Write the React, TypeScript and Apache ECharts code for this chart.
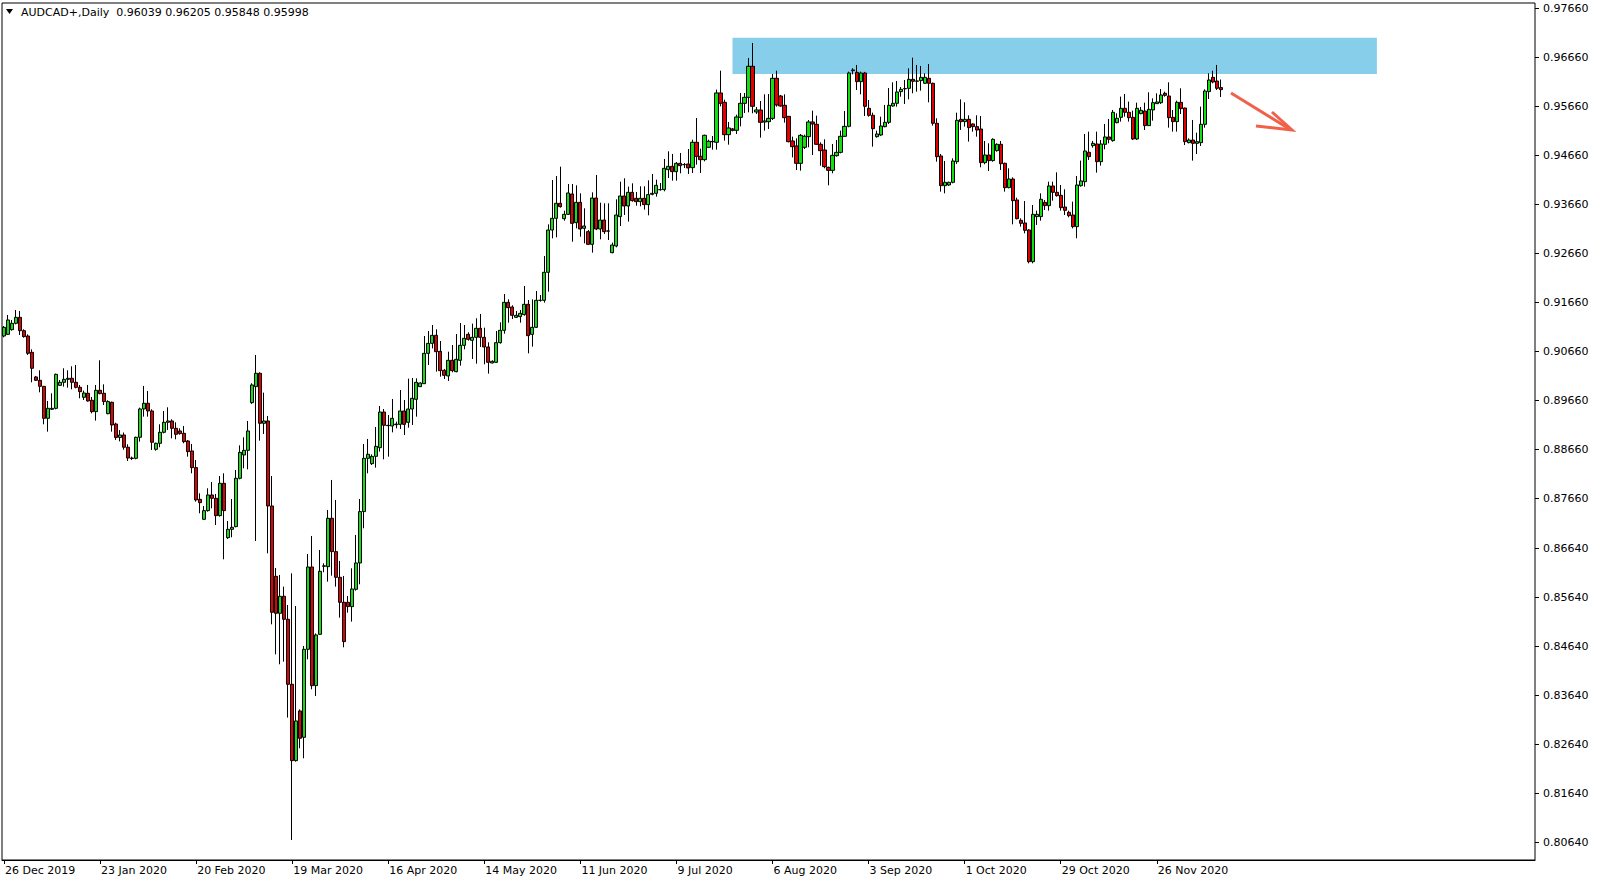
import React, { useEffect, useRef } from "react";
import * as echarts from "echarts";

const OPEN = [0.90970,0.91004,0.91100,0.91229,0.91351,0.91079,0.90970,0.90637,0.90134,0.90066,0.89943,0.89290,0.89474,0.89494,0.89963,0.90025,0.90086,0.90107,0.90025,0.89923,0.89719,0.89801,0.89658,0.89426,0.89862,0.89801,0.89385,0.89617,0.89174,0.88900,0.88950,0.88700,0.88470,0.88474,0.88903,0.89481,0.89597,0.89440,0.88658,0.88780,0.89005,0.89209,0.89236,0.89086,0.89032,0.88984,0.88828,0.88624,0.88284,0.87637,0.87229,0.87406,0.87726,0.87658,0.87304,0.87964,0.86855,0.87025,0.87080,0.88066,0.88542,0.88637,0.89610,0.89937,0.90209,0.89189,0.89236,0.87501,0.86066,0.85311,0.85658,0.85189,0.83862,0.82304,0.83318,0.82780,0.84576,0.86256,0.83835,0.84882,0.86270,0.86263,0.87250,0.86569,0.86045,0.85535,0.85535,0.85447,0.85801,0.86338,0.87386,0.88474,0.88365,0.88514,0.88691,0.89419,0.89147,0.89133,0.89160,0.89167,0.89440,0.89208,0.89480,0.89678,0.89936,0.89997,0.90616,0.90820,0.90984,0.90657,0.90270,0.90154,0.90474,0.90242,0.90474,0.90780,0.91004,0.90882,0.90943,0.91127,0.90943,0.90746,0.90419,0.90433,0.90834,0.91086,0.91657,0.91562,0.91351,0.91365,0.91406,0.91617,0.91004,0.91147,0.91695,0.91698,0.92270,0.93133,0.93372,0.93678,0.93365,0.93453,0.93868,0.93283,0.93698,0.93168,0.93100,0.92841,0.93786,0.93154,0.93337,0.93110,0.92671,0.92807,0.93406,0.93827,0.93623,0.93902,0.93780,0.93712,0.93780,0.93651,0.93862,0.93882,0.93955,0.93957,0.94365,0.94433,0.94324,0.94494,0.94465,0.94481,0.94406,0.94923,0.94637,0.94569,0.94821,0.94935,0.94923,0.95930,0.95739,0.95079,0.95195,0.95168,0.95433,0.95719,0.95841,0.96474,0.95542,0.95582,0.95338,0.95344,0.95412,0.96229,0.95868,0.95678,0.95453,0.94950,0.94848,0.94494,0.94821,0.95038,0.95338,0.95290,0.94882,0.94766,0.94412,0.94351,0.94650,0.94718,0.95045,0.95249,0.96385,0.96351,0.96161,0.96338,0.95617,0.95474,0.95038,0.95072,0.95242,0.95331,0.95664,0.95719,0.95957,0.96015,0.96025,0.96208,0.96170,0.96181,0.96127,0.96229,0.96127,0.95311,0.94644,0.94038,0.94052,0.94106,0.94528,0.95392,0.95345,0.95392,0.95297,0.95243,0.95195,0.94508,0.94664,0.94549,0.94753,0.94882,0.94494,0.93998,0.94174,0.93746,0.93331,0.93277,0.93134,0.92487,0.93406,0.93406,0.93698,0.93630,0.94032,0.93902,0.93841,0.93603,0.93494,0.93440,0.93202,0.94038,0.94120,0.94719,0.94855,0.94889,0.94528,0.94882,0.95032,0.94957,0.95324,0.95433,0.95617,0.95535,0.95433,0.94991,0.95508,0.95562,0.95263,0.95583,0.95712,0.95732,0.95923,0.95868,0.95433,0.95345,0.95739,0.95623,0.94916,0.94970,0.94902,0.94916,0.95290,0.95957,0.96249,0.96174,0.96039];

const CLOSE = [0.91147,0.91297,0.91229,0.91351,0.91079,0.90957,0.90617,0.90311,0.90066,0.89943,0.89290,0.89494,0.89494,0.90188,0.90025,0.90086,0.90107,0.90025,0.89923,0.89834,0.89807,0.89644,0.89426,0.89862,0.89794,0.89631,0.89631,0.89154,0.88900,0.88950,0.88700,0.88480,0.88480,0.88903,0.89481,0.89597,0.89440,0.88801,0.88780,0.89005,0.89209,0.89236,0.89086,0.88964,0.88978,0.88814,0.88610,0.88284,0.87624,0.87569,0.87406,0.87726,0.87658,0.87304,0.87964,0.87406,0.87025,0.87066,0.88066,0.88596,0.88637,0.89032,0.89971,0.90209,0.89189,0.89236,0.87501,0.85331,0.85311,0.85658,0.85189,0.83862,0.82304,0.83114,0.82760,0.84576,0.86256,0.83835,0.84869,0.86168,0.86280,0.87250,0.86569,0.86045,0.85535,0.84733,0.85447,0.85807,0.86338,0.87386,0.88474,0.88556,0.88514,0.88718,0.89419,0.89147,0.89140,0.89290,0.89172,0.89440,0.89167,0.89480,0.89698,0.90025,0.90011,0.90616,0.90820,0.90984,0.90650,0.90263,0.90168,0.90474,0.90263,0.90494,0.90780,0.90923,0.90902,0.90943,0.91127,0.90943,0.90746,0.90433,0.90453,0.90834,0.91086,0.91657,0.91548,0.91392,0.91392,0.91433,0.91617,0.90977,0.91147,0.91698,0.91700,0.92270,0.93133,0.93372,0.93678,0.93610,0.93453,0.93889,0.93269,0.93698,0.93154,0.93215,0.92841,0.93786,0.93154,0.93337,0.93100,0.93115,0.92827,0.93440,0.93827,0.93623,0.93902,0.93732,0.93712,0.93780,0.93651,0.93855,0.93882,0.94045,0.93960,0.94392,0.94433,0.94324,0.94494,0.94447,0.94470,0.94399,0.94923,0.94637,0.94569,0.95066,0.94943,0.94940,0.95930,0.95719,0.95079,0.95215,0.95168,0.95440,0.95719,0.95841,0.96474,0.95657,0.95583,0.95331,0.95358,0.95412,0.96229,0.95685,0.95664,0.95426,0.94936,0.94834,0.94494,0.95065,0.95045,0.95338,0.95297,0.94882,0.94752,0.94426,0.94351,0.94657,0.94718,0.95045,0.95249,0.96338,0.96400,0.96161,0.96338,0.95657,0.95474,0.95201,0.95093,0.95256,0.95331,0.95678,0.95719,0.95950,0.96004,0.96020,0.96208,0.96168,0.96175,0.96249,0.96249,0.96127,0.95311,0.94630,0.94038,0.94106,0.94106,0.94542,0.95372,0.95345,0.95392,0.95222,0.95243,0.95174,0.94508,0.94664,0.94549,0.94984,0.94882,0.94487,0.93998,0.94174,0.93732,0.93365,0.93270,0.93127,0.92487,0.93453,0.93453,0.93760,0.93630,0.94032,0.93902,0.93834,0.93589,0.93535,0.93426,0.93202,0.94052,0.94134,0.94746,0.94630,0.94902,0.94528,0.94889,0.95032,0.94984,0.95535,0.95413,0.95617,0.95535,0.95426,0.94991,0.95617,0.95576,0.95263,0.95596,0.95732,0.95746,0.95889,0.95882,0.95426,0.95345,0.95739,0.95610,0.94936,0.94970,0.94902,0.94936,0.95290,0.95970,0.96195,0.96154,0.96025,0.95998];

const LOW = [0.90943,0.90991,0.91079,0.91208,0.90991,0.90936,0.90583,0.90025,0.90052,0.89821,0.89168,0.89018,0.89460,0.89474,0.89950,0.89936,0.89916,0.89882,0.89902,0.89699,0.89665,0.89631,0.89392,0.89243,0.89780,0.89562,0.89372,0.89018,0.88850,0.88820,0.88650,0.88420,0.88440,0.88454,0.88814,0.89324,0.89324,0.88644,0.88630,0.88699,0.88984,0.89052,0.88882,0.88862,0.88957,0.88780,0.88508,0.88168,0.87590,0.87352,0.87216,0.87386,0.87454,0.87113,0.87284,0.86413,0.86828,0.86862,0.87066,0.88045,0.88270,0.88250,0.89583,0.86787,0.88835,0.88971,0.86535,0.85086,0.84474,0.84270,0.84324,0.83182,0.80685,0.82284,0.82556,0.82352,0.84372,0.83760,0.83624,0.84869,0.86148,0.85957,0.86079,0.85855,0.85222,0.84617,0.85324,0.85141,0.85773,0.85903,0.87046,0.88168,0.88337,0.88283,0.88610,0.88453,0.88508,0.89004,0.89086,0.89072,0.88950,0.89099,0.89154,0.89324,0.89930,0.89990,0.90378,0.90718,0.90242,0.90140,0.90093,0.90052,0.90229,0.90229,0.90365,0.90698,0.90875,0.90501,0.90406,0.90746,0.90392,0.90202,0.90412,0.90419,0.90814,0.91018,0.91242,0.91317,0.91338,0.91242,0.91385,0.90616,0.90753,0.91133,0.91671,0.91651,0.91875,0.92963,0.92984,0.93590,0.93324,0.93440,0.92895,0.93168,0.92997,0.92861,0.92827,0.92671,0.93130,0.92943,0.93052,0.92929,0.92657,0.92780,0.93215,0.93440,0.93304,0.93712,0.93630,0.93617,0.93549,0.93433,0.93841,0.93814,0.93936,0.93923,0.94195,0.94140,0.94140,0.94290,0.94399,0.94277,0.94297,0.94467,0.94297,0.94535,0.94807,0.94773,0.94773,0.95657,0.94957,0.94875,0.95147,0.95093,0.95249,0.95521,0.95535,0.95515,0.95501,0.95018,0.95161,0.95195,0.95378,0.95650,0.95650,0.95324,0.94922,0.94616,0.94358,0.94344,0.94787,0.94821,0.94664,0.94868,0.94446,0.94392,0.94045,0.94290,0.94630,0.94698,0.95038,0.95229,0.96310,0.95991,0.95902,0.95460,0.95446,0.94834,0.95018,0.95052,0.95229,0.95297,0.95650,0.95650,0.95854,0.95705,0.95800,0.95923,0.95957,0.95977,0.96113,0.95739,0.95263,0.94528,0.93916,0.93882,0.94032,0.94086,0.94481,0.95175,0.95243,0.94937,0.95140,0.95038,0.94413,0.94474,0.94338,0.94528,0.94732,0.94358,0.93916,0.93984,0.93249,0.93351,0.93202,0.93066,0.92453,0.92453,0.93236,0.93324,0.93542,0.93528,0.93732,0.93814,0.93528,0.93440,0.93392,0.93168,0.92964,0.94018,0.94018,0.94562,0.94814,0.94304,0.94447,0.94780,0.94902,0.94936,0.95310,0.95345,0.95447,0.95345,0.94970,0.94970,0.95494,0.95174,0.95256,0.95365,0.95705,0.95705,0.95855,0.95222,0.95141,0.95141,0.95501,0.94868,0.94902,0.94549,0.94685,0.94848,0.95222,0.95807,0.96127,0.95991,0.95848];

const HIGH = [0.91174,0.91399,0.91297,0.91501,0.91481,0.91106,0.91004,0.90698,0.90154,0.90270,0.89950,0.89644,0.89800,0.90202,0.90072,0.90311,0.90270,0.90352,0.90379,0.89970,0.89855,0.89970,0.89726,0.89970,0.90474,0.89984,0.89658,0.89631,0.89200,0.89050,0.89000,0.88760,0.88508,0.88916,0.89508,0.89950,0.89848,0.89474,0.88794,0.89168,0.89440,0.89515,0.89270,0.89209,0.89086,0.89134,0.88848,0.88767,0.88440,0.87760,0.87501,0.87862,0.87991,0.87746,0.88113,0.88168,0.87195,0.87644,0.88236,0.88739,0.88903,0.89236,0.90005,0.90583,0.90230,0.89814,0.89338,0.88113,0.86236,0.86093,0.85855,0.85481,0.86127,0.85460,0.83350,0.84644,0.86522,0.86889,0.84900,0.86603,0.86331,0.87420,0.88032,0.87624,0.86379,0.86073,0.85665,0.86229,0.86910,0.87644,0.88767,0.88869,0.88555,0.89113,0.89542,0.89480,0.89358,0.89684,0.89222,0.89868,0.89664,0.90100,0.90113,0.90106,0.90025,0.90970,0.91072,0.91195,0.91106,0.90868,0.90297,0.90650,0.90786,0.91011,0.91235,0.91195,0.91045,0.91222,0.91331,0.91419,0.91140,0.90841,0.90474,0.91072,0.91249,0.91827,0.91718,0.91596,0.91480,0.91501,0.91991,0.91705,0.91718,0.91889,0.91807,0.92603,0.93249,0.94154,0.94235,0.94426,0.93528,0.94072,0.94072,0.94045,0.93882,0.93576,0.93133,0.93902,0.94256,0.93691,0.93678,0.93678,0.92875,0.93759,0.94120,0.94188,0.94018,0.94086,0.93909,0.94025,0.94025,0.94147,0.94277,0.94161,0.94093,0.94583,0.94739,0.94685,0.94521,0.94705,0.94501,0.94787,0.94977,0.95419,0.94794,0.95080,0.94977,0.95052,0.95998,0.96385,0.95794,0.95338,0.95215,0.95487,0.95930,0.95930,0.96644,0.96950,0.95644,0.95766,0.95902,0.95909,0.96317,0.96385,0.95889,0.95902,0.95460,0.95038,0.95004,0.95093,0.95079,0.95378,0.95569,0.95467,0.94923,0.94984,0.94426,0.94889,0.94970,0.95161,0.95562,0.96365,0.96433,0.96501,0.96365,0.96360,0.95787,0.95528,0.95161,0.95446,0.95685,0.96031,0.96147,0.96174,0.96052,0.96195,0.96433,0.96650,0.96501,0.96481,0.96331,0.96521,0.96140,0.95413,0.94685,0.94542,0.94120,0.94596,0.95528,0.95800,0.95739,0.95474,0.95310,0.95474,0.95460,0.94950,0.94902,0.95004,0.94902,0.94950,0.94508,0.94392,0.94208,0.93793,0.93372,0.93725,0.93150,0.93644,0.93528,0.93882,0.93746,0.94120,0.94120,0.94310,0.94052,0.93964,0.93528,0.93712,0.94236,0.94549,0.95093,0.95141,0.94950,0.95141,0.94970,0.95297,0.95399,0.95583,0.95515,0.95855,0.95909,0.95753,0.95569,0.95732,0.95644,0.95732,0.95943,0.95821,0.95923,0.96011,0.95957,0.96147,0.95583,0.95773,0.96025,0.95630,0.95004,0.95379,0.95120,0.95651,0.96004,0.96331,0.96385,0.96501,0.96205];

const Y_TICKS = [0.9766, 0.9666, 0.9566, 0.9466, 0.9366, 0.9266, 0.9166, 0.9066, 0.8966, 0.8866, 0.8766, 0.8664, 0.8564, 0.8464, 0.8364, 0.8264, 0.8164, 0.8064];
const Y_MIN = 0.80276;
const Y_MAX = 0.97766;

const ZONE_TOP = 0.97058;
const ZONE_BOTTOM = 0.96317;
const ZONE_START = 182;
const ZONE_END = 343;

const LAST_PRICE = 0.95998;
const HEADER = "AUDCAD+,Daily  0.96039 0.96205 0.95848 0.95998";

const MONTHS = ["Jan","Feb","Mar","Apr","May","Jun","Jul","Aug","Sep","Oct","Nov","Dec"];
const TOTAL_SLOTS = 383;
const LABEL_EVERY = 24;

function buildDates(): string[] {
  const out: string[] = [];
  const d = new Date(2019, 11, 26);
  while (out.length < TOTAL_SLOTS) {
    if (d.getDay() !== 6) {
      out.push(`${d.getDate()} ${MONTHS[d.getMonth()]} ${d.getFullYear()}`);
    }
    d.setDate(d.getDate() + 1);
  }
  return out;
}

export default function App() {
  const ref = useRef<HTMLDivElement>(null);
  useEffect(() => {
    if (!ref.current) return;
    const chart = echarts.init(ref.current, null, { renderer: "svg" });
    const dates = buildDates();
    const candles = OPEN.map((o, i) => [o, CLOSE[i], LOW[i], HIGH[i]]);
    const font = "DejaVu Sans";
    const showLabel = (i: number) => i % LABEL_EVERY === 0 && i < OPEN.length;
    chart.setOption({
      animation: false,
      backgroundColor: "#ffffff",
      grid: { left: 2, right: 64, top: 3, bottom: 24, show: true, borderColor: "#000", borderWidth: 1, backgroundColor: "transparent" },
      xAxis: {
        type: "category",
        data: dates,
        boundaryGap: true,
        axisLine: { show: true, lineStyle: { color: "#000", width: 1 } },
        axisTick: { show: true, alignWithLabel: true, length: 4, interval: showLabel, lineStyle: { color: "#000" } },
        axisLabel: { show: true, interval: showLabel, align: "left", margin: 5, padding: [0, 0, 0, 1], color: "#000", fontSize: 11, fontFamily: font },
        splitLine: { show: false },
      },
      yAxis: {
        type: "value",
        position: "right",
        min: Y_MIN,
        max: Y_MAX,
        scale: true,
        axisLine: { show: false },
        axisTick: { show: true, length: 4, customValues: Y_TICKS, lineStyle: { color: "#000" } },
        axisLabel: { show: true, customValues: Y_TICKS, formatter: (v: number) => v.toFixed(5), color: "#000", fontSize: 11, fontFamily: font, margin: 8 },
        splitLine: { show: false },
      },
      series: [
        {
          type: "candlestick",
          data: candles,
          barWidth: 3.6,
          itemStyle: {
            color: "#10E010",
            color0: "#E00000",
            borderColor: "#000",
            borderColor0: "#000",
            borderColorDoji: "#000",
            borderWidth: 1,
          },
          markArea: {
            silent: true,
            itemStyle: { color: "#87CEEB", opacity: 1 },
            data: [[{ xAxis: dates[ZONE_START], yAxis: ZONE_TOP }, { xAxis: dates[ZONE_END], yAxis: ZONE_BOTTOM }]],
          },
          markLine: {
            silent: true,
            symbol: ["none", "none"],
            lineStyle: { opacity: 0 },
            label: {
              show: true,
              position: "end",
              distance: 2,
              formatter: () => LAST_PRICE.toFixed(5),
              backgroundColor: "#000",
              color: "#fff",
              fontSize: 11,
              fontFamily: font,
              padding: [1, 4, 0, 4],
            },
            data: [{ yAxis: LAST_PRICE }],
          },
        },
      ],
      graphic: [
        { type: "polygon", shape: { points: [[6, 9], [13, 9], [9.5, 14]] }, style: { fill: "#000" } },
        { type: "text", x: 21, y: 12, style: { text: HEADER, fill: "#000", font: `11px ${font}`, textVerticalAlign: "middle" } },
        { type: "line", shape: { x1: 1231, y1: 93, x2: 1291, y2: 130 }, style: { stroke: "#F0604A", lineWidth: 3 } },
        { type: "polyline", shape: { points: [[1256, 126], [1292, 130], [1272, 112]] }, style: { stroke: "#F0604A", lineWidth: 3, fill: "none" } },
      ],
    });
    return () => chart.dispose();
  }, []);
  return <div ref={ref} style={{ position: "fixed", left: 0, top: 0, width: 1599, height: 884 }} />;
}
